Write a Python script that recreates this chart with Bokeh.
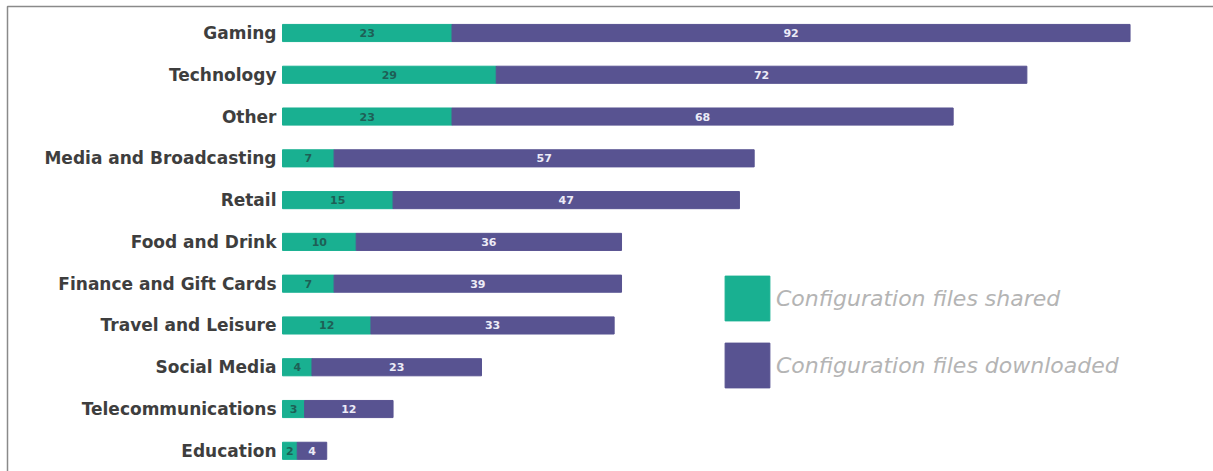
from bokeh.plotting import figure
from bokeh.models import ColumnDataSource, Range1d, BoxAnnotation, Legend, LegendItem
from bokeh.core.properties import value
from bokeh.embed import file_html
from bokeh.resources import INLINE

categories = ["Gaming", "Technology", "Other", "Media and Broadcasting", "Retail",
              "Food and Drink", "Finance and Gift Cards", "Travel and Leisure",
              "Social Media", "Telecommunications", "Education"]
shared = [23, 29, 23, 7, 15, 10, 7, 12, 4, 3, 2]
downloaded = [92, 72, 68, 57, 47, 36, 39, 33, 23, 12, 4]

GREEN = "#19b091"
PURPLE = "#585391"

n = len(categories)
ypos = [n - 1 - i for i in range(n)]
total = [s + d for s, d in zip(shared, downloaded)]
src = ColumnDataSource(dict(
    cat=categories, y=ypos, shared=shared, downloaded=downloaded, total=total,
    zero=[0] * n,
    smid=[s / 2 for s in shared],
    dmid=[s + d / 2 for s, d in zip(shared, downloaded)],
    slab=[str(s) for s in shared],
    dlab=[str(d) for d in downloaded],
))

W, H = 1213, 471
pxu = 7.37
pyu = 41.78
x0 = -282 / pxu
x1 = x0 + W / pxu
y1 = n - 1 + 32.5 / pyu
y0 = -(H - 450.3) / pyu
p = figure(width=W, height=H, output_backend="svg", toolbar_location=None,
           x_range=Range1d(x0, x1),
           y_range=Range1d(y0, y1),
           min_border=0, outline_line_color=None)
p.axis.visible = False
p.grid.visible = False
p.background_fill_color = "white"
p.border_fill_color = "white"

# frame (top and left edges visible; right/bottom lie beyond the canvas)
p.add_layout(BoxAnnotation(left=x0 + 7 / pxu, top=y1 - 6 / pyu, right=x1 + 5, bottom=y0 - 5,
                           fill_alpha=0, line_color="#8a8a8a", line_alpha=1, line_width=1.5))

r1 = p.hbar(y="y", left="zero", right="shared", height=0.41, color=GREEN, source=src)
r2 = p.hbar(y="y", left="shared", right="total", height=0.41, color=PURPLE, source=src)

p.text(x="smid", y="y", text="slab", source=src, text_align="center", text_baseline="middle",
       text_font=value("DejaVu Sans"), text_font_style="bold", text_font_size="11px",
       text_color="#1e5f56")
p.text(x="dmid", y="y", text="dlab", source=src, text_align="center", text_baseline="middle",
       text_font=value("DejaVu Sans"), text_font_style="bold", text_font_size="11px",
       text_color="#ecebf7")
p.text(x="zero", y="y", text="cat", source=src, text_align="right", text_baseline="middle",
       x_offset=-6, text_font=value("DejaVu Sans"), text_font_style="bold",
       text_font_size="17px", text_color="#3e3e3e")

legend = Legend(items=[LegendItem(label="Configuration files shared", renderers=[r1]),
                       LegendItem(label="Configuration files downloaded", renderers=[r2])],
                location=(719, 78), glyph_width=56, glyph_height=56, spacing=11,
                padding=0, margin=0, label_standoff=1,
                label_text_font="DejaVu Sans", label_text_font_style="italic",
                label_text_font_size="22px", label_text_color="#b4b4b4",
                border_line_color=None, background_fill_alpha=0)
p.add_layout(legend)

open("out.html", "w").write(file_html(p, INLINE))
